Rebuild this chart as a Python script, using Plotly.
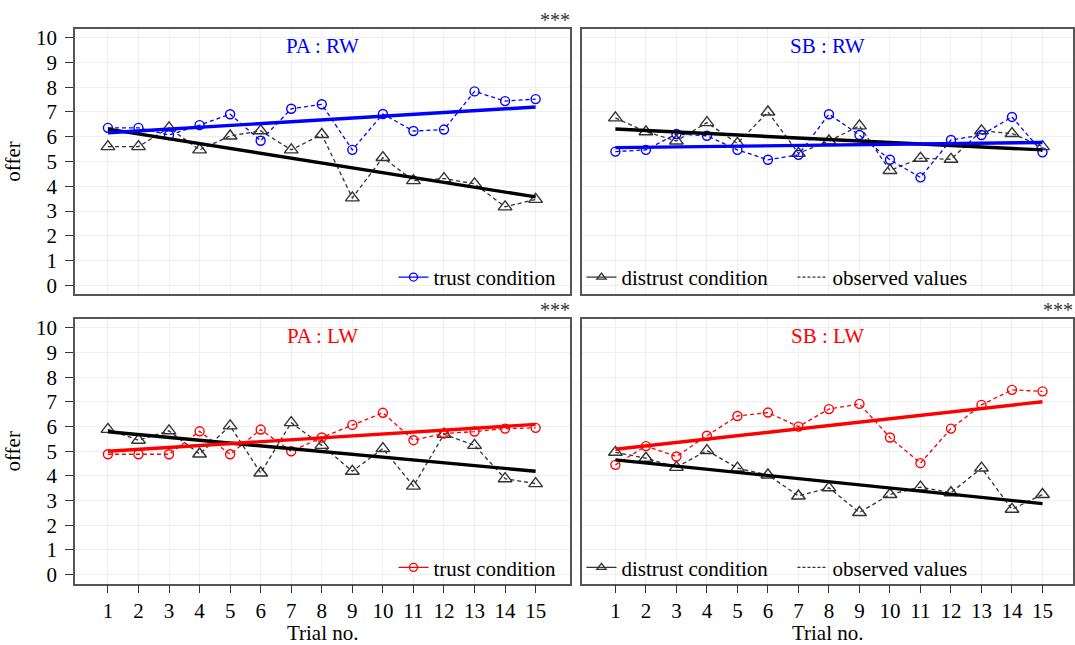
import plotly.graph_objects as go

trials = list(range(1, 16))

# PA : RW
pa_rw_trust = [6.36, 6.36, 6.07, 6.47, 6.91, 5.84, 7.13, 7.31, 5.47, 6.92, 6.23, 6.29, 7.83, 7.44, 7.52]
pa_rw_distrust = [5.60, 5.60, 6.36, 5.47, 6.03, 6.24, 5.47, 6.09, 3.53, 5.16, 4.23, 4.31, 4.10, 3.17, 3.47]
pa_rw_trust_fit = [6.16, 7.20]
pa_rw_distrust_fit = [6.31, 3.57]

# SB : RW
sb_rw_trust = [5.40, 5.47, 6.11, 6.04, 5.47, 5.07, 5.27, 6.91, 6.07, 5.07, 4.36, 5.87, 6.07, 6.80, 5.37]
sb_rw_distrust = [6.76, 6.20, 5.83, 6.57, 5.73, 7.00, 5.33, 5.83, 6.44, 4.64, 5.13, 5.09, 6.24, 6.13, 5.60]
sb_rw_trust_fit = [5.56, 5.77]
sb_rw_distrust_fit = [6.31, 5.47]

# PA : LW
pa_lw_trust = [4.88, 4.88, 4.88, 5.81, 4.88, 5.88, 5.00, 5.56, 6.07, 6.56, 5.45, 5.72, 5.80, 5.92, 5.95]
pa_lw_distrust = [5.89, 5.45, 5.83, 4.89, 6.03, 4.12, 6.16, 5.24, 4.19, 5.11, 3.59, 5.69, 5.24, 3.89, 3.69]
pa_lw_trust_fit = [5.00, 6.09]
pa_lw_distrust_fit = [5.79, 4.19]

# SB : LW
sb_lw_trust = [4.45, 5.21, 4.79, 5.63, 6.43, 6.57, 6.00, 6.71, 6.92, 5.56, 4.52, 5.92, 6.88, 7.49, 7.43]
sb_lw_distrust = [4.96, 4.72, 4.35, 5.03, 4.32, 4.04, 3.19, 3.52, 2.52, 3.25, 3.55, 3.32, 4.32, 2.65, 3.25]
sb_lw_trust_fit = [5.08, 7.01]
sb_lw_distrust_fit = [4.65, 2.88]

panel_titles = ["PA : RW", "SB : RW", "PA : LW", "SB : LW"]
panel_colors = ["#0000ff", "#0000ff", "#ff0000", "#ff0000"]
significance = ["***", "", "***", "***"]
y_ticks = list(range(0, 11))
x_label = "Trial no."
y_label = "offer"

panels = [
    (pa_rw_trust, pa_rw_distrust, pa_rw_trust_fit, pa_rw_distrust_fit),
    (sb_rw_trust, sb_rw_distrust, sb_rw_trust_fit, sb_rw_distrust_fit),
    (pa_lw_trust, pa_lw_distrust, pa_lw_trust_fit, pa_lw_distrust_fit),
    (sb_lw_trust, sb_lw_distrust, sb_lw_trust_fit, sb_lw_distrust_fit),
]

W, H = 1075, 645
FONT = "Liberation Serif"
GRAY = "#333333"
FS = 21

# pixel boxes of the panels (left, top, right, bottom)
boxes = [(75, 26, 571, 294), (583, 26, 1074, 294), (75, 319, 571, 586), (583, 319, 1074, 586)]
xranges = [[-0.08, 16.14], [-0.08, 16.0], [-0.08, 16.14], [-0.08, 16.0]]
yrange = [-0.36, 10.36]

fig = go.Figure()
layout = dict(
    width=W, height=H, margin=dict(l=0, r=0, t=0, b=0),
    paper_bgcolor="white", plot_bgcolor="white",
    font=dict(family=FONT, size=FS, color="black"),
    annotations=[], showlegend=True,
)

for i, (tr, di, trf, dif) in enumerate(panels):
    n = i + 1
    xa = "x" if n == 1 else f"x{n}"
    ya = "y" if n == 1 else f"y{n}"
    col = panel_colors[i]
    l, t, r, b = boxes[i]
    bottom_row = i >= 2
    left_col = i % 2 == 0
    axkey_x = "xaxis" if n == 1 else f"xaxis{n}"
    axkey_y = "yaxis" if n == 1 else f"yaxis{n}"
    layout[axkey_x] = dict(
        domain=[l / W, r / W], range=xranges[i], anchor=ya,
        tickvals=trials, showticklabels=bottom_row,
        ticks="outside" if bottom_row else "", ticklen=8, tickcolor=GRAY,
        showline=True, linecolor="#555555", linewidth=1.5, mirror=True,
        showgrid=True, gridcolor="#efefef", gridwidth=1, zeroline=False,
        tickfont=dict(size=FS, family=FONT),
        title=dict(text=x_label if bottom_row else "", font=dict(size=FS, family=FONT), standoff=3),
    )
    layout[axkey_y] = dict(
        domain=[1 - b / H, 1 - t / H], range=yrange, anchor=xa,
        tickvals=y_ticks, showticklabels=left_col,
        ticks="outside" if left_col else "", ticklen=8, tickcolor=GRAY,
        showline=True, linecolor="#555555", linewidth=1.5, mirror=True,
        showgrid=True, gridcolor="#efefef", gridwidth=1, zeroline=False,
        tickfont=dict(size=FS, family=FONT), ticklabelstandoff=4,
        title=dict(text=y_label if left_col else "", font=dict(size=FS, family=FONT), standoff=10),
    )
    # observed values (dashed)
    fig.add_trace(go.Scatter(
        x=trials, y=di, xaxis=xa, yaxis=ya, mode="lines+markers", showlegend=False,
        line=dict(color=GRAY, width=1.3, dash="4px,3px"),
        marker=dict(symbol="triangle-up-open", size=12, color=GRAY, line=dict(width=1.4)),
    ))
    fig.add_trace(go.Scatter(
        x=trials, y=tr, xaxis=xa, yaxis=ya, mode="lines+markers", showlegend=False,
        line=dict(color=col, width=1.3, dash="4px,3px"),
        marker=dict(symbol="circle-open", size=9, color=col, line=dict(width=1.4)),
    ))
    # fitted lines
    fig.add_trace(go.Scatter(
        x=[trials[0], trials[-1]], y=dif, xaxis=xa, yaxis=ya, mode="lines", showlegend=False,
        line=dict(color="black", width=3.4),
    ))
    fig.add_trace(go.Scatter(
        x=[trials[0], trials[-1]], y=trf, xaxis=xa, yaxis=ya, mode="lines", showlegend=False,
        line=dict(color=col, width=3.4),
    ))
    # panel title
    layout["annotations"].append(dict(
        text=panel_titles[i], x=0.5, xref=f"{xa} domain", y=1 - (17 / (b - t)),
        yref=f"{ya} domain", showarrow=False, font=dict(size=FS, color=col, family=FONT),
        xanchor="center", yanchor="middle",
    ))
    if significance[i]:
        layout["annotations"].append(dict(
            text=significance[i], x=1.0, xref=f"{xa} domain", y=1.0, yref=f"{ya} domain",
            showarrow=False, font=dict(size=20, color="#333333", family=FONT),
            xanchor="right", yanchor="bottom", yshift=-4, xshift=2,
        ))

# legends
def leg_trace(name, color, symbol, dash, legend, mode):
    return go.Scatter(
        x=[None], y=[None], name=name, mode=mode, legend=legend, showlegend=True,
        line=dict(color=color, width=1.3, dash=dash),
        marker=dict(symbol=symbol, size=8, color=color, line=dict(width=1.3)),
    )

fig.add_trace(leg_trace("trust condition", "#0000ff", "circle-open", "solid", "legend", "lines+markers"))
fig.add_trace(leg_trace("distrust condition", GRAY, "triangle-up-open", "solid", "legend2", "lines+markers"))
fig.add_trace(leg_trace("observed values", GRAY, "circle", "3px,2px", "legend2", "lines"))
fig.add_trace(leg_trace("trust condition", "#ff0000", "circle-open", "solid", "legend3", "lines+markers"))
fig.add_trace(leg_trace("distrust condition", GRAY, "triangle-up-open", "solid", "legend4", "lines+markers"))
fig.add_trace(leg_trace("observed values", GRAY, "circle", "3px,2px", "legend4", "lines"))

leg_common = dict(bgcolor="rgba(0,0,0,0)", font=dict(size=FS, family=FONT), orientation="h",
                  yanchor="middle", borderwidth=0)
layout["legend"] = dict(leg_common, x=562 / W, xanchor="right", y=1 - 277 / H)
layout["legend2"] = dict(leg_common, x=582 / W, xanchor="left", y=1 - 277 / H,
                         entrywidth=166, entrywidthmode="pixels")
layout["legend3"] = dict(leg_common, x=562 / W, xanchor="right", y=1 - 570 / H)
layout["legend4"] = dict(leg_common, x=582 / W, xanchor="left", y=1 - 570 / H,
                         entrywidth=166, entrywidthmode="pixels")

fig.update_layout(**layout)
fig.write_html("out.html", config={"displayModeBar": False},
               post_script="document.body.style.margin='0';document.body.style.overflow='hidden';")
